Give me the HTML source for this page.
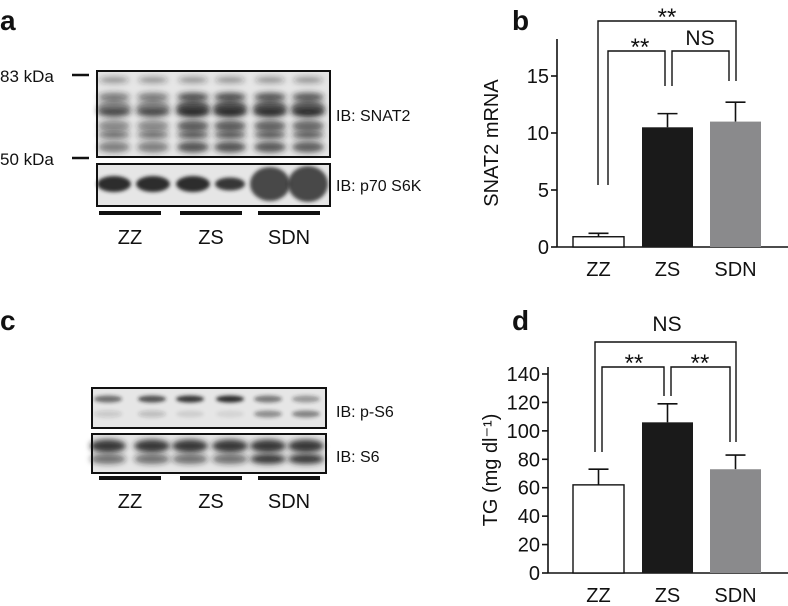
<!DOCTYPE html>
<html><head><meta charset="utf-8"><style>
body{margin:0;background:#fff}
svg{display:block;font-family:"Liberation Sans",Arial,sans-serif}
</style></head><body>
<svg width="788" height="606" viewBox="0 0 788 606">
<defs>
<filter id="bl" x="-30%" y="-100%" width="160%" height="300%"><feGaussianBlur stdDeviation="3"/></filter>
<filter id="bl2" x="-30%" y="-100%" width="160%" height="300%"><feGaussianBlur stdDeviation="1.8"/></filter>
</defs>
<g id="blots"></g>
<g id="chartb"></g>
<g id="chartd"></g>
</svg>
<script>
const NS='http://www.w3.org/2000/svg';
function mk(p,tag,attrs,txt){const e=document.createElementNS(NS,tag);for(const k in attrs)e.setAttribute(k,attrs[k]);if(txt!==undefined)e.textContent=txt;p.appendChild(e);return e;}

// ---- chart data ----
const categories=['ZZ','ZS','SDN'];
const snat2Values=[0.9,10.5,11.0];
const snat2Errors=[0.3,1.2,1.7];
const snat2Ticks=[0,5,10,15];
const tgValues=[62,106,73];
const tgErrors=[11,13,10];
const tgTicks=[0,20,40,60,80,100,120,140];
const barFills=['#ffffff','#1a1a1a','#8a8a8c'];

// ---- blots ----
const B=document.getElementById('blots');
function label(p,x,y,t,size,anchor,weight,name){const e=mk(p,'text',{x:x,y:y,'font-size':size,'text-anchor':anchor||'start','font-weight':weight||'normal',fill:'#111'},t);return e;}
label(B,0,30,'a',28,'start','bold','panel-label-a');
label(B,0,330,'c',28,'start','bold','panel-label-c');
label(B,512,30,'b',28,'start','bold','panel-label-b');
label(B,512,330,'d',28,'start','bold','panel-label-d');
label(B,0,82,'83 kDa',17,'start','normal','marker-83kda');
label(B,0,165,'50 kDa',17,'start','normal','marker-50kda');
mk(B,'line',{x1:72,y1:75,x2:89,y2:75,stroke:'#111','stroke-width':2.5});
mk(B,'line',{x1:72,y1:158,x2:89,y2:158,stroke:'#111','stroke-width':2.5});
const lanesA=[114,153,193,230,270,308], lanesC=[108,152,190,230,268,306];
function box(x,y,w,h,name){const g=mk(B,'g',{});mk(g,'rect',{x:x,y:y,width:w,height:h,fill:'#e6e6e6'});return g;}
function band(g,cx,cy,w,h,op,f){mk(g,'ellipse',{cx:cx,cy:cy,rx:w/2,ry:h/2,fill:'#222','fill-opacity':op,filter:'url(#'+(f||'bl')+')'});}
// SNAT2 blot
let g=box(97,71,233,86,'snat2-blot');
const intA=[0.45,0.45,0.9,0.9,0.85,0.8];
lanesA.forEach((c,i)=>{const k=intA[i];
 band(g,c,80,30,6,0.45);band(g,c,97,32,9,0.3+k*0.5);band(g,c,108,34,16,0.2+k*0.6);band(g,c,112,34,8,0.45+k*0.5);band(g,c,126,32,12,0.25+k*0.5);band(g,c,135,32,7,0.5+k*0.3);band(g,c,147,32,11,0.3+k*0.5);});
mk(g,'rect',{x:97,y:71,width:233,height:86,fill:'none',stroke:'#111','stroke-width':2});
label(B,336,121,'IB: SNAT2',16,'start','normal','label-ib-snat2');
g=box(97,164,233,42,'p70s6k-blot');
const p70=[[34,16,0.95],[34,16,0.95],[34,16,0.95],[30,13,0.9],[40,34,0.8],[40,36,0.8]];
lanesA.forEach((c,i)=>{const q=p70[i];band(g,c,184,q[0],q[1],q[2],'bl2');});
mk(g,'rect',{x:97,y:164,width:233,height:42,fill:'none',stroke:'#111','stroke-width':2});
label(B,336,191,'IB: p70 S6K',16,'start','normal','label-ib-p70s6k');
// panel c
g=box(92,388,234,40,'p-s6-blot');
const ps6=[0.6,0.75,0.9,0.95,0.55,0.4], ps6b=[0.15,0.2,0.1,0.08,0.45,0.5];
lanesC.forEach((c,i)=>{band(g,c,399,28,7,ps6[i],'bl2');band(g,c,414,28,7,ps6b[i],'bl2');});
mk(g,'rect',{x:92,y:388,width:234,height:40,fill:'none',stroke:'#111','stroke-width':2});
label(B,336,417,'IB: p-S6',16,'start','normal','label-ib-p-s6');
g=box(92,434,234,39,'s6-blot');
lanesC.forEach((c,i)=>{band(g,c,446,36,13,0.9);band(g,c,459,36,10,i>=4?0.9:0.6);});
mk(g,'rect',{x:92,y:434,width:234,height:39,fill:'none',stroke:'#111','stroke-width':2});
label(B,336,462,'IB: S6',16,'start','normal','label-ib-s6');
function groupBars(y,xs,ly,pre){xs.forEach((x,i)=>{const r=mk(B,'rect',{x:x,y:y-2,width:62,height:4,fill:'#111'});
 label(B,x+31,ly,categories[i],20,'middle','normal',pre+'-group-label-'+categories[i].toLowerCase());});}
groupBars(213,[99,180,258],244,'a');
groupBars(478,[99,180,258],508,'c');

// ---- bar charts ----
function chart(id,vals,errs,ticks,yMax,x0,yZero,yTop,pxPerUnit,ytitle,pre){
 const G=document.getElementById(id);
 const y=v=>yZero-v*pxPerUnit;
 const xL=[573,642,710], bw=51;
 mk(G,'line',{x1:x0,y1:yTop,x2:x0,y2:yZero,stroke:'#111','stroke-width':1.6});
 mk(G,'line',{x1:x0,y1:yZero,x2:788,y2:yZero,stroke:'#111','stroke-width':1.6});
 ticks.forEach(t=>{mk(G,'line',{x1:x0-6,y1:y(t),x2:x0,y2:y(t),stroke:'#111','stroke-width':1.6});
  const e=mk(G,'text',{x:x0-8,y:y(t)+7,'font-size':20,'text-anchor':'end',fill:'#111'},t);
  });
 vals.forEach((v,i)=>{const cx=xL[i]+bw/2;
  mk(G,'line',{x1:cx,y1:y(v),x2:cx,y2:y(v+errs[i]),stroke:'#111','stroke-width':1.6});
  mk(G,'line',{x1:cx-10,y1:y(v+errs[i]),x2:cx+10,y2:y(v+errs[i]),stroke:'#111','stroke-width':1.6});
  const r=mk(G,'rect',{x:xL[i],y:y(v),width:bw,height:yZero-y(v),fill:barFills[i],stroke:i==0?'#111':'none','stroke-width':1.4});
  
  const e=mk(G,'text',{x:cx,y:yZero+29,'font-size':20,'text-anchor':'middle',fill:'#111'},categories[i]);
  });
 const cy=(yTop+yZero)/2;
 const t=mk(G,'text',{x:0,y:0,'font-size':20,'text-anchor':'middle',fill:'#111',transform:'translate('+(pre=='b'?498:497)+','+cy+') rotate(-90)'},ytitle);
 
 return G;}
function path(G,d,name){const p=mk(G,'path',{d:d,fill:'none',stroke:'#111','stroke-width':1.4});}
function txt(G,x,y,t,s,name){const e=mk(G,'text',{x:x,y:y,'font-size':s,'text-anchor':'middle',fill:'#111'},t);}

let Gb=chart('chartb',snat2Values,snat2Errors,snat2Ticks,17,557,247,39,57/5,'SNAT2 mRNA','b');
path(Gb,'M598 185 V21 H736 V81','b-bracket-zz-sdn');
path(Gb,'M608 185 V51 H665 V86','b-bracket-zz-zs');
path(Gb,'M729 81 V51 H672 V86','b-bracket-zs-sdn');
txt(Gb,667,25,'**',24,'b-sig-zz-sdn');
txt(Gb,640,55,'**',24,'b-sig-zz-zs');
txt(Gb,700,45,'NS',21,'b-sig-zs-sdn');

let Gd=chart('chartd',tgValues,tgErrors,tgTicks,145,548,573,367,199/140,'TG (mg dl⁻¹)','d');
path(Gd,'M595 452 V342 H736 V442','d-bracket-zz-sdn');
path(Gd,'M602 452 V367 H664 V396','d-bracket-zz-zs');
path(Gd,'M730 442 V367 H671 V396','d-bracket-zs-sdn');
txt(Gd,667,331,'NS',21,'d-sig-zz-sdn');
txt(Gd,634,371,'**',24,'d-sig-zz-zs');
txt(Gd,700,371,'**',24,'d-sig-zs-sdn');
</script>
</body></html>
